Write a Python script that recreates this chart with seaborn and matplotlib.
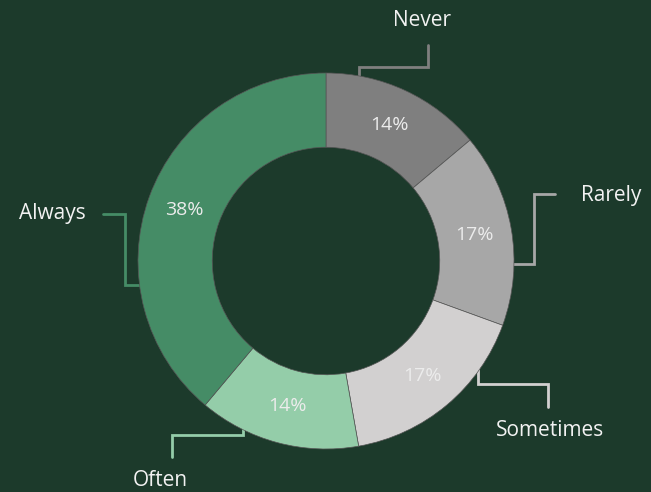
import matplotlib
matplotlib.use('Agg')
import matplotlib.pyplot as plt
import seaborn as sns
import numpy as np

# datos
categorias = ['Never', 'Rarely', 'Sometimes', 'Often', 'Always']
conteos = [5, 6, 6, 5, 14]
porcentajes = ['14%', '17%', '17%', '14%', '38%']
colores = ['#7f7f7f', '#a7a7a7', '#d2d0d0', '#94cda9', '#458c66']

FONDO = '#1c3a2b'
W, H = 651, 492

sns.set_theme(style='white')
plt.rcParams['font.family'] = ['Open Sans', 'DejaVu Sans']

fig = plt.figure(figsize=(W / 100, H / 100), dpi=100, facecolor=FONDO)
ax = fig.add_axes([0, 0, 1, 1])
ax.set_facecolor(FONDO)

cx, cy, r = 326, H - 261, 188
wedges, texts = ax.pie(
    conteos, colors=colores, startangle=90, counterclock=False,
    center=(cx, cy), radius=r,
    wedgeprops=dict(width=r * 0.395, edgecolor='#555555', linewidth=0.5))

# porcentajes en el centro del anillo
for w, txt in zip(wedges, porcentajes):
    ang = np.deg2rad((w.theta1 + w.theta2) / 2)
    ax.text(cx + 0.80 * r * np.cos(ang), cy + 0.80 * r * np.sin(ang), txt,
            color='#ececec', fontsize=14, ha='center', va='center')

# lineas guia (coordenadas en pixeles, y desde arriba)
guias = {
    'Never': [(359, 75), (359, 67), (428, 67), (428, 45)],
    'Rarely': [(513, 264), (534, 264), (534, 194), (555, 194)],
    'Sometimes': [(478, 368), (478, 384), (548, 384), (548, 407)],
    'Often': [(243, 413), (243, 435), (172, 435), (172, 457)],
    'Always': [(103, 214), (125, 214), (125, 285), (140, 285)],
}
etiquetas = {
    'Never': (422, 21, 'center'),
    'Rarely': (581, 196, 'left'),
    'Sometimes': (550, 431, 'center'),
    'Often': (160, 480, 'center'),
    'Always': (86, 213, 'right'),
}
for cat, col in zip(categorias, colores):
    pts = guias[cat]
    ax.plot([p[0] for p in pts], [H - p[1] for p in pts], color=col,
            linewidth=2, solid_joinstyle='miter', zorder=0)
    x, y, ha = etiquetas[cat]
    ax.text(x, H - y, cat, color='#f2f2f2', fontsize=15,
            ha=ha, va='center')

ax.set_xlim(0, W)
ax.set_ylim(0, H)
ax.set_aspect('equal')
ax.axis('off')

fig.savefig('out.png', dpi=100, facecolor=FONDO)
